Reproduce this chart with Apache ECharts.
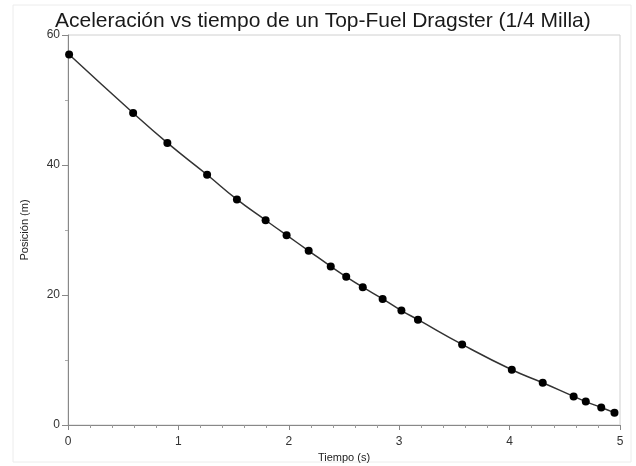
<!DOCTYPE html>
<html>
<head>
<meta charset="utf-8">
<script src="https://cdn.jsdelivr.net/npm/echarts@6/dist/echarts.min.js"></script>
<style>html,body{margin:0;padding:0;background:#fff}#c{width:636px;height:466px}</style>
</head>
<body>
<div id="c"></div>
<script>
var titleText = 'Aceleración vs tiempo de un Top-Fuel Dragster (1/4 Milla)';
var xName = 'Tiempo (s)';
var yName = 'Posición (m)';
var tiempo = [0.01, 0.59, 0.90, 1.26, 1.53, 1.79, 1.98, 2.18, 2.38, 2.52, 2.67, 2.85, 3.02, 3.17, 3.57, 4.02, 4.30, 4.58, 4.69, 4.83, 4.95];
var posicion = [57.0, 48.0, 43.4, 38.5, 34.7, 31.5, 29.2, 26.8, 24.4, 22.8, 21.2, 19.4, 17.6, 16.2, 12.4, 8.5, 6.5, 4.4, 3.6, 2.7, 1.9];
var xTicks = [0, 1, 2, 3, 4, 5];
var yTicks = [0, 20, 40, 60];

var data = tiempo.map(function (t, i) { return [t, posicion[i]]; });
var chart = echarts.init(document.getElementById('c'));
chart.setOption({
  animation: false,
  textStyle: { fontFamily: 'Liberation Sans, Arial, sans-serif' },
  title: {
    text: titleText, left: 50, top: 6,
    textStyle: { fontSize: 21, fontWeight: 'normal', color: '#1a1a1a', fontFamily: 'Liberation Sans, Arial, sans-serif' }
  },
  graphic: [{
    type: 'rect', shape: { x: 13, y: 5, width: 618, height: 457 },
    style: { fill: 'none', stroke: '#ececec', lineWidth: 1 }, silent: true, z: -1
  }],
  grid: { left: 68, right: 16, top: 35, bottom: 41, outerBoundsMode: 'none', containLabel: false, show: true, borderColor: '#d0d0d0', borderWidth: 1, backgroundColor: 'transparent' },
  xAxis: {
    type: 'value', min: xTicks[0], max: xTicks[xTicks.length - 1], interval: 1,
    name: xName, nameLocation: 'middle', nameGap: 26,
    nameTextStyle: { fontSize: 11, color: '#222' },
    axisLine: { show: true, lineStyle: { color: '#888', width: 1 } },
    axisTick: { show: true, length: 5, lineStyle: { color: '#888' } },
    minorTick: { show: true, splitNumber: 5, length: 3, lineStyle: { color: '#999' } },
    axisLabel: { fontSize: 12, color: '#333', margin: 11 },
    splitLine: { show: false }
  },
  yAxis: {
    type: 'value', min: yTicks[0], max: yTicks[yTicks.length - 1], interval: 20,
    name: yName, nameLocation: 'middle', nameGap: 38, nameRotate: 90,
    nameTextStyle: { fontSize: 11, color: '#222' },
    axisLine: { show: true, lineStyle: { color: '#888', width: 1 } },
    axisTick: { show: true, length: 6, lineStyle: { color: '#888' } },
    minorTick: { show: true, splitNumber: 2, length: 3, lineStyle: { color: '#aaa' } },
    axisLabel: { fontSize: 12, color: '#333', margin: 8 },
    splitLine: { show: false }
  },
  series: [{
    type: 'line', data: data, smooth: true,
    symbol: 'circle', symbolSize: 8,
    itemStyle: { color: '#000' },
    lineStyle: { color: '#333', width: 1.5 }
  }]
});
</script>
</body>
</html>
